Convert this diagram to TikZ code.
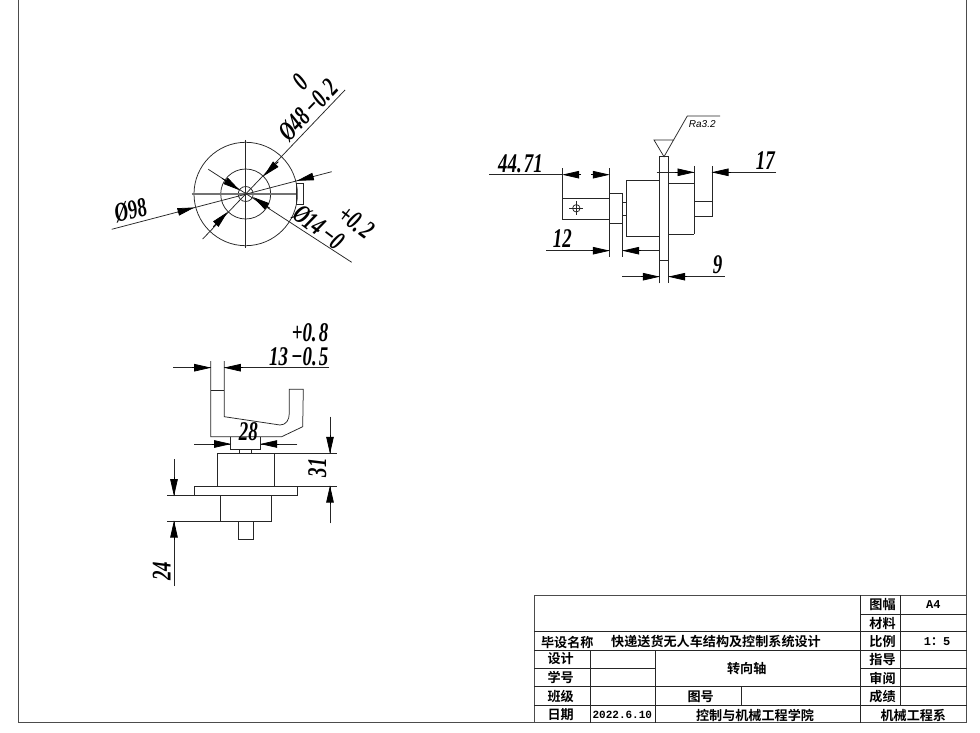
\documentclass[tikz,border=0pt]{standalone}
\usepackage{graphicx}
\usepackage{fontspec}
\setmainfont{Liberation Serif}
\newfontfamily\cjkb[BoldFont={Noto Sans CJK SC Bold}]{Noto Sans CJK SC}
\newfontfamily\dimf{Liberation Serif}
\newfontfamily\tabf{Liberation Mono}
\newfontfamily\raf{Liberation Sans}
\usetikzlibrary{arrows.meta}
\tikzset{
  ln/.style={line width=0.75pt,draw=black!85},
  heavy/.style={line width=1pt,draw=black!70},
  centre/.style={line width=1.1pt,draw=black!55},
  arr/.style={line width=0.75pt,draw=black,-{Triangle[length=17pt,width=7.5pt]},shorten >=-0.5pt},
  dimtxt/.style={inner sep=0pt,font=\dimf\itshape\bfseries\fontsize{27}{27}\selectfont},
  tab/.style={inner sep=0pt,font=\cjkb\bfseries\fontsize{13.1}{14}\selectfont},
  tabl/.style={inner sep=0pt,font=\tabf\bfseries\fontsize{11}{13}\selectfont},
  tabh/.style={inner sep=0pt,font=\tabf\bfseries\fontsize{12}{13}\selectfont},
}
\newcommand{\nw}[1]{\scalebox{0.7}[1]{#1}}
\newcommand{\dg}{\kern3pt}
\begin{document}
\begin{tikzpicture}[x=1pt,y=-1pt]
\useasboundingbox (0,0) rectangle (980,733);
\fill[white] (0,0) rectangle (980,733);
% sheet border
\draw[heavy] (18.5,0) -- (18.5,722.7) -- (966.5,722.7) -- (966.5,0);
% ---- end view
\draw[ln] (245.7,194) circle[radius=51.7];
\draw[ln] (245.7,194) circle[radius=25];
\draw[ln] (245.7,194) circle[radius=7.5];
\draw[ln] (245.7,140) -- (245.7,248.3);
\draw[centre] (191.7,194) -- (298.3,194);
\draw[ln] (296.7,183.3) rectangle (303.3,204.3);
% leaders
\draw[ln] (111.7,229.3) -- (331.7,171.7);
\draw[ln] (345,90) -- (202.7,239);
\draw[ln] (208.3,169.3) -- (351.7,262.3);
\draw[arr] (177.4,212.1) -- (194,207.6);
\draw[arr] (314,176.3) -- (297.3,180.7);
\draw[arr] (278.3,161.7) -- (264,175.7);
\draw[arr] (213.3,226.7) -- (227.3,212.3);
\draw[arr] (222,178.3) -- (239.3,190);
\draw[arr] (270,208.3) -- (253.3,197.3);
\node[dimtxt,rotate=14] (t98) at (130.5,210.5) {\nw{Ø98}};
\node[dimtxt,rotate=46] (t48) at (308.3,110) {\nw{Ø48\,−0.\dg2}};
\node[dimtxt,rotate=46] (t48b) at (300,82.3) {\nw{0}};
\node[dimtxt,rotate=-37] (t14) at (319,227) {\nw{Ø14\,−0}};
\node[dimtxt,rotate=-37] (t14b) at (356.5,222.3) {\nw{+0.\dg2}};
% ---- side view
\draw[ln] (562.7,168.3) -- (562.7,219.3) -- (609.3,219.3);
\draw[ln] (562.7,198.3) -- (609.3,198.3);
\draw[ln] (609.3,168.3) -- (609.3,257.3);
\draw[ln] (622.7,193.3) -- (622.7,257.3);
\draw[ln] (609.3,193.3) -- (622.7,193.3);
\draw[ln] (609.3,223.3) -- (622.7,223.3);
\draw[ln] (622.7,202.7) -- (626.7,202.7);
\draw[ln] (622.7,215) -- (626.7,215);
\draw[ln] (659.3,180) -- (626.7,180) -- (626.7,236.7) -- (659.3,236.7);
\draw[ln] (659.3,283.3) -- (659.3,156.7) -- (668.7,156.7) -- (668.7,283.3);
\draw[ln] (659.3,260) -- (668.7,260);
\draw[ln] (668.7,183.3) -- (694,183.3);
\draw[ln] (668.7,234) -- (694,234);
\draw[ln] (694,166) -- (694,234);
\draw[ln] (694,201) -- (712,201);
\draw[ln] (694,216.3) -- (712,216.3) -- (712,166);
% crosshair symbol
\draw[ln] (576.3,208.3) circle[radius=3.7];
\draw[ln] (569.3,208.3) -- (583.3,208.3);
\draw[ln] (576.3,201.3) -- (576.3,215.3);
% dimensions side view
\draw[ln] (489.3,174.7) -- (562.7,174.7);
\draw[arr] (581,174.7) -- (562.7,174.7);
\draw[arr] (591,174.7) -- (609.3,174.7);
\draw[ln] (656.7,172.3) -- (694,172.3);
\draw[arr] (675,172.3) -- (694,172.3);
\draw[ln] (776,172.3) -- (712,172.3);
\draw[arr] (731,172.3) -- (712,172.3);
\draw[ln] (546,250.7) -- (609.3,250.7);
\draw[arr] (591,250.7) -- (609.3,250.7);
\draw[ln] (622.7,250.7) -- (659.3,250.7);
\draw[arr] (641,250.7) -- (622.7,250.7);
\draw[ln] (622.3,276.7) -- (659.3,276.7);
\draw[arr] (641,276.7) -- (659.3,276.7);
\draw[ln] (668.7,276.7) -- (725,276.7);
\draw[arr] (687,276.7) -- (668.7,276.7);
\node[dimtxt] (t4471) at (520.5,163.3) {\nw{44.\dg71}};
\node[dimtxt] (t17) at (765.3,161) {\nw{17}};
\node[dimtxt] (t12) at (562.3,238.3) {\nw{12}};
\node[dimtxt] (t9) at (717.7,264.3) {\nw{9}};
% roughness
\draw[ln] (720,116) -- (687.3,116) -- (664,156.7) -- (654,140) -- (674,140);
\node[inner sep=0pt,font=\raf\itshape\fontsize{10}{10}\selectfont] (tra) at (702.3,124.3) {Ra3.2};
% ---- front view
\draw[ln] (210.7,361) -- (210.7,436.7) -- (281.7,436.7) -- (302.7,426.7) -- (303.3,389.3) -- (289.3,389.3) -- (289.3,413.3)
  .. controls (289.3,420) and (286,425) .. (280,425) -- (224.3,416.7) -- (224.3,361);
\draw[ln] (210.7,390) -- (224.3,390);
\draw[ln] (173.3,367.7) -- (210.7,367.7);
\draw[arr] (192,367.7) -- (210.7,367.7);
\draw[ln] (329.3,367.7) -- (224.3,367.7);
\draw[arr] (243,367.7) -- (224.3,367.7);
\node[dimtxt] (t13) at (298.8,356.7) {\nw{13\,−0.\dg5}};
\node[dimtxt] (t08) at (310,332.3) {\nw{+0.\dg8}};
\draw[ln] (230.7,436.7) -- (230.7,449.3) -- (260.7,449.3) -- (260.7,436.7);
\draw[ln] (194,444) -- (230.7,444);
\draw[arr] (212.3,444) -- (230.7,444);
\draw[ln] (297.3,444) -- (260.7,444);
\draw[arr] (279,444) -- (260.7,444);
\node[dimtxt] (t28) at (248.3,431.7) {\nw{28}};
\draw[ln] (239.3,449.3) -- (239.3,453.3);
\draw[ln] (251.3,449.3) -- (251.3,453.3);
\draw[ln] (217.3,486) -- (217.3,453.3) -- (336.7,453.3);
\draw[ln] (274.3,453.3) -- (274.3,486);
\draw[ln] (194,486) rectangle (297.3,495.7);
\draw[ln] (297.3,486) -- (336.7,486);
\draw[ln] (167.3,495.7) -- (271,495.7) -- (271,521) -- (167.3,521);
\draw[ln] (220.3,495.7) -- (220.3,521);
\draw[ln] (238.3,521) -- (238.3,539.3) -- (253.7,539.3) -- (253.7,521);
\draw[ln] (330,416.7) -- (330,453.3);
\draw[arr] (330,435) -- (330,453.3);
\draw[ln] (330,523.3) -- (330,486);
\draw[arr] (330,504) -- (330,486);
\node[dimtxt,rotate=90] (t31) at (317.3,467.7) {\nw{31}};
\draw[ln] (174,459) -- (174,495.7);
\draw[arr] (174,477) -- (174,495.7);
\draw[ln] (174,586) -- (174,521);
\draw[arr] (174,539.5) -- (174,521);
\node[dimtxt,rotate=90] (t24) at (161.7,571) {\nw{24}};
% ---- title block
\draw[heavy] (534.3,722.7) -- (534.3,595) -- (966.5,595);
\draw[ln] (860,595) -- (860,722.7);
\draw[ln] (900,595) -- (900,705);
\draw[ln] (860,614) -- (966.5,614);
\draw[ln] (534.3,631.7) -- (966.5,631.7);
\draw[ln] (534.3,650) -- (966.5,650);
\draw[ln] (534.3,668) -- (655,668);
\draw[ln] (860,668) -- (966.5,668);
\draw[ln] (534.3,686.7) -- (966.5,686.7);
\draw[ln] (534.3,705) -- (966.5,705);
\draw[ln] (590,650) -- (590,722.7);
\draw[ln] (655,650) -- (655,722.7);
\draw[ln] (741.7,686.7) -- (741.7,705);
\node[tab] (c1) at (882.5,605) {图幅};
\node[tab] (c2) at (882.5,623.5) {材料};
\node[tab] (c3) at (882.5,642) {比例};
\node[tab] (c4) at (882.5,660) {指导};
\node[tab] (c5) at (882.5,678.5) {审阅};
\node[tab] (c6) at (882.5,697) {成绩};
\node[tabh] (c7) at (933.3,604.3) {A4};
\node[tabh] (c8) at (937,641.7) {1{\cjkb\bfseries：}5};
\node[tab] (c9) at (567.3,642) {毕设名称};
\node[tab] (c10) at (716,642) {快递送货无人车结构及控制系统设计};
\node[tab] (c11) at (560.7,659) {设计};
\node[tab] (c12) at (560.7,677.7) {学号};
\node[tab] (c13) at (560.7,696.7) {班级};
\node[tab] (c14) at (560.7,715) {日期};
\node[tabl] (c15) at (622.3,715) {2022.6.10};
\node[tab] (c16) at (746.7,668.3) {转向轴};
\node[tab] (c17) at (700.7,697) {图号};
\node[tab] (c18) at (755,715) {控制与机械工程学院};
\node[tab] (c19) at (913.3,715) {机械工程系};
\end{tikzpicture}
\end{document}
